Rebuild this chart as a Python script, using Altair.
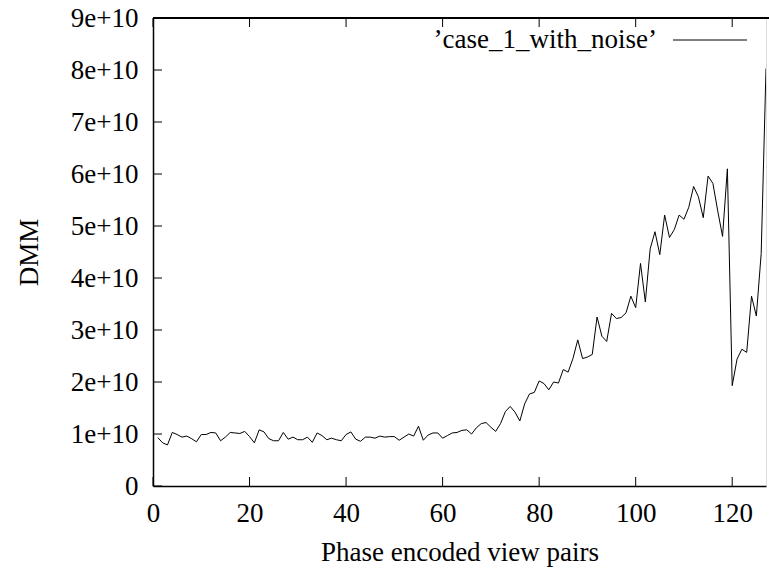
import altair as alt
import pandas as pd

# data (DMM in units of 1e10)
xs = list(range(1, 128))
dmm_e10 = [
    0.93, 0.83, 0.79, 1.03, 0.99, 0.94, 0.96, 0.91, 0.85, 0.99,
    0.99, 1.03, 1.02, 0.87, 0.94, 1.03, 1.02, 1.01, 1.05, 0.95,
    0.83, 1.08, 1.04, 0.91, 0.87, 0.87, 1.03, 0.90, 0.94, 0.89,
    0.89, 0.94, 0.84, 1.02, 0.97, 0.89, 0.92, 0.89, 0.87, 0.99,
    1.04, 0.90, 0.86, 0.94, 0.94, 0.92, 0.96, 0.94, 0.95, 0.95,
    0.88, 0.94, 1.00, 0.96, 1.15, 0.88, 0.98, 1.02, 1.02, 0.92,
    0.97, 1.02, 1.03, 1.07, 1.08, 1.00, 1.12, 1.20, 1.22, 1.13,
    1.05, 1.20, 1.43, 1.53, 1.42, 1.25, 1.58, 1.77, 1.80, 2.02,
    1.97, 1.85, 2.00, 1.98, 2.24, 2.19, 2.45, 2.81, 2.45, 2.48,
    2.53, 3.25, 2.88, 2.78, 3.32, 3.22, 3.24, 3.33, 3.65, 3.43,
    4.28, 3.54, 4.56, 4.89, 4.45, 5.21, 4.78, 4.93, 5.21, 5.13,
    5.36, 5.76, 5.56, 5.16, 5.96, 5.82, 5.29, 4.80, 6.10, 1.93,
    2.44, 2.63, 2.57, 3.65, 3.27, 4.47, 8.03,
]
x_ticks = [0, 20, 40, 60, 80, 100, 120]
y_ticks = [0, 1e10, 2e10, 3e10, 4e10, 5e10, 6e10, 7e10, 8e10, 9e10]
series_name = "\u2019case_1_with_noise\u2019"

W, H = 613, 468
FONT = "Liberation Serif"
FS = 27

df = pd.DataFrame({"x": xs, "dmm": [v * 1e10 for v in dmm_e10]})
xt = pd.DataFrame({"x": x_ticks})
yt = pd.DataFrame({"dmm": y_ticks})

xscale = alt.Scale(domain=[0, 127], nice=False, zero=False)
yscale = alt.Scale(domain=[0, 9e10], nice=False)

x_axis = alt.Axis(values=x_ticks, title="Phase encoded view pairs",
                  tickSize=0, labelPadding=14, titlePadding=13,
                  labelFlush=False, labelOverlap=False,
                  grid=False, domainColor="black", domainWidth=1.5,
                  labelFont=FONT, labelFontSize=FS, titleFont=FONT,
                  titleFontSize=FS, titleFontWeight="normal",
                  labelColor="black", titleColor="black")
y_axis = alt.Axis(values=y_ticks, title="DMM",
                  labelExpr="datum.value == 0 ? '0' : format(datum.value / 1e10, 'd') + 'e+10'",
                  tickSize=0, labelPadding=15, titlePadding=27,
                  labelFlush=False, labelOverlap=False,
                  grid=False, domainColor="black", domainWidth=1.5,
                  labelFont=FONT, labelFontSize=FS, titleFont=FONT,
                  titleFontSize=FS, titleFontWeight="normal",
                  labelColor="black", titleColor="black")

X = alt.X("x:Q", scale=xscale, axis=x_axis)
Y = alt.Y("dmm:Q", scale=yscale, axis=y_axis)

line = alt.Chart(df).mark_line(color="black", strokeWidth=1, clip=True).encode(x=X, y=Y)

xtick_bottom = alt.Chart(xt).mark_rule(color="black", strokeWidth=1).encode(
    x=X, y=alt.value(H), y2=alt.value(H - 9),
)
xtick_top = alt.Chart(xt).mark_rule(color="black", strokeWidth=1).encode(
    x=X, y=alt.value(0), y2=alt.value(9),
)
ytick_left = alt.Chart(yt).mark_rule(color="black", strokeWidth=1).encode(
    y=Y, x=alt.value(0), x2=alt.value(9),
)
top_border = alt.Chart(xt).mark_rule(color="black", strokeWidth=1.5).encode(
    x=alt.value(0), x2=alt.value(W + 10), y=alt.value(0),
)

leg = pd.DataFrame({"label": [series_name]})
legend_text = alt.Chart(leg).mark_text(
    font=FONT, fontSize=FS, align="right", baseline="middle", color="black"
).encode(text="label:N", x=alt.value(504), y=alt.value(22))
legend_line = alt.Chart(leg).mark_rule(color="black", strokeWidth=1).encode(
    x=alt.value(520), x2=alt.value(594), y=alt.value(22),
)

chart = alt.layer(
    line, xtick_bottom, xtick_top, ytick_left, top_border, legend_text, legend_line
).properties(
    width=W, height=H,
    autosize=alt.AutoSizeParams(type="none"),
    padding={"left": 153, "top": 18, "right": 3, "bottom": 83},
).configure_view(stroke=None).configure(background="white")

chart.save("out.html", embed_options={"renderer": "svg", "actions": False})
